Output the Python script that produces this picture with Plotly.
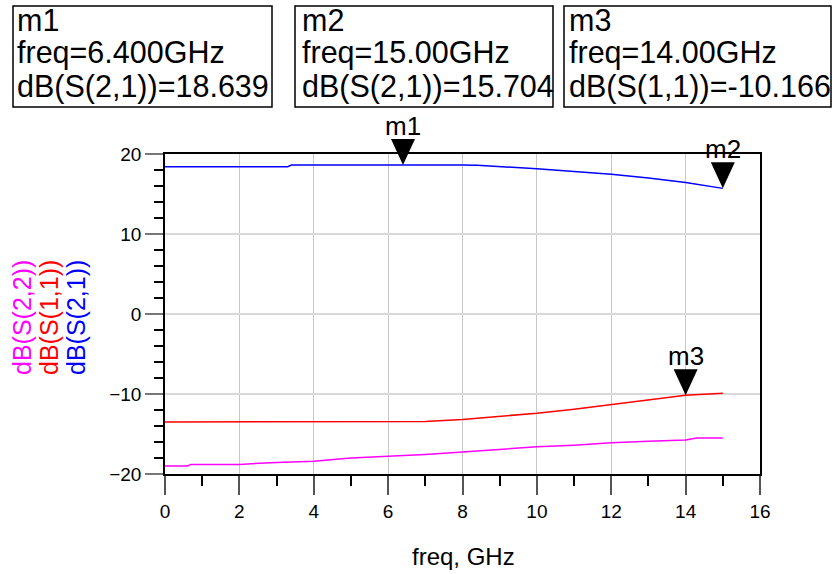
import plotly.graph_objects as go

# ---------------- data ----------------
freq_s21 = [0, 1, 2, 3, 3.3, 3.4, 4, 5, 6, 6.4, 7, 8, 8.4, 9, 10, 11, 12, 13, 14, 15]
s21_db = [18.40, 18.40, 18.40, 18.40, 18.40, 18.62, 18.63, 18.63, 18.64, 18.639, 18.64, 18.63,
          18.60, 18.45, 18.15, 17.82, 17.48, 17.00, 16.45, 15.704]

freq_s11 = [0, 1, 2, 3, 4, 5, 6, 6.7, 7, 8, 9, 10, 11, 12, 13, 14, 15]
s11_db = [-13.5, -13.5, -13.5, -13.5, -13.5, -13.5, -13.5, -13.5, -13.45, -13.18, -12.82,
          -12.40, -11.90, -11.30, -10.70, -10.166, -9.90]

freq_s22 = [0, 0.6, 0.7, 2, 3, 4, 5, 6, 7, 8, 9, 10, 11, 12, 13, 14, 14.3, 15]
s22_db = [-19.0, -19.0, -18.8, -18.8, -18.55, -18.4, -18.0, -17.8, -17.55, -17.25, -16.9,
          -16.6, -16.4, -16.1, -15.9, -15.75, -15.5, -15.5]

marker_names = ["m1", "m2", "m3"]
marker_freq = [6.4, 15.0, 14.0]
marker_value = [18.639, 15.704, -10.166]
marker_trace = ["dB(S(2,1))", "dB(S(2,1))", "dB(S(1,1))"]
marker_freq_text = ["6.400", "15.00", "14.00"]

x_range = [0, 16]
y_range = [-20, 20]
series_names = ["dB(S(2,2))", "dB(S(1,1))", "dB(S(2,1))"]
series_colors = ["#ff00ff", "#ff0000", "#0000ff"]

# ---------------- geometry ----------------
W, H = 838, 574
L, R, T, B = 165, 78, 154, 100
PW, PH = W - L - R, H - T - B

def xp(px):
    return (px - L) / PW

def yp(py):
    return (H - B - py) / PH

def y_to_paper(v):
    return (v - y_range[0]) / (y_range[1] - y_range[0])

FONT = "Liberation Sans, Arial, sans-serif"

fig = go.Figure()
fig.add_trace(go.Scatter(x=freq_s22, y=s22_db, mode="lines", line=dict(color=series_colors[0], width=1.5), name=series_names[0]))
fig.add_trace(go.Scatter(x=freq_s11, y=s11_db, mode="lines", line=dict(color=series_colors[1], width=1.5), name=series_names[1]))
fig.add_trace(go.Scatter(x=freq_s21, y=s21_db, mode="lines", line=dict(color=series_colors[2], width=1.5), name=series_names[2]))

shapes = []
annotations = []

# marker triangles + labels
for name, fx, fy in zip(marker_names, marker_freq, marker_value):
    shapes.append(dict(type="path", xref="x", yref="paper", xsizemode="pixel", ysizemode="pixel",
                       xanchor=fx, yanchor=y_to_paper(fy), path="M -12 26 L 12 26 L 0 0 Z",
                       fillcolor="black", line=dict(width=0), layer="above"))
    annotations.append(dict(x=fx, y=fy, xref="x", yref="y", text=name, showarrow=False,
                            yanchor="middle", xanchor="center", yshift=39,
                            font=dict(family=FONT, size=26, color="black")))

# marker readout boxes
box_left = [13, 295, 564]
box_right = [272, 553, 831]
text_left = [15, 300, 567]
box_top, box_bottom = 6, 107
line_centers = [20, 53, 87]
for i in range(3):
    shapes.append(dict(type="rect", xref="paper", yref="paper",
                       x0=xp(box_left[i]), x1=xp(box_right[i]),
                       y0=yp(box_bottom), y1=yp(box_top),
                       line=dict(color="black", width=1.5), fillcolor="rgba(0,0,0,0)"))
    lines = [marker_names[i],
             "freq=" + marker_freq_text[i] + "GHz",
             marker_trace[i] + "=" + ("%.3f" % marker_value[i])]
    for txt, cy in zip(lines, line_centers):
        annotations.append(dict(x=xp(text_left[i]), y=yp(cy), xref="paper", yref="paper",
                                text=txt, showarrow=False, xanchor="left", yanchor="middle",
                                font=dict(family=FONT, size=30.5, color="black")))

# y-axis titles (three coloured rotated labels)
title_x = [22, 49, 76]
for name, col, tx in zip(series_names, series_colors, title_x):
    annotations.append(dict(x=xp(tx), y=yp(318), xref="paper", yref="paper", text=name,
                            showarrow=False, textangle=-90, xanchor="center", yanchor="middle",
                            font=dict(family=FONT, size=25, color=col)))

# x-axis title
annotations.append(dict(x=xp(463), y=yp(556), xref="paper", yref="paper", text="freq, GHz",
                        showarrow=False, xanchor="center", yanchor="middle",
                        font=dict(family=FONT, size=24, color="black")))

fig.update_layout(
    width=W, height=H, autosize=False,
    margin=dict(l=L, r=R, t=T, b=B, pad=0),
    paper_bgcolor="white", plot_bgcolor="white",
    showlegend=False,
    font=dict(family=FONT, size=19, color="black"),
    shapes=shapes, annotations=annotations,
    xaxis=dict(range=x_range, tick0=0, dtick=2, ticks="outside", ticklen=19, tickwidth=1.5,
               tickcolor="#555555", showgrid=True, gridcolor="#c8c8c8", gridwidth=1,
               showline=True, linecolor="black", linewidth=1.5, mirror=True, zeroline=False,
               tickfont=dict(family=FONT, size=19, color="black"),
               minor=dict(dtick=1, tick0=0, ticks="outside", ticklen=10, tickcolor="black",
                          tickwidth=1.5, showgrid=False)),
    yaxis=dict(range=y_range, tick0=0, dtick=10, ticks="outside", ticklen=18, tickwidth=1.5,
               tickcolor="#777777", showgrid=True, gridcolor="#d9d9d9", gridwidth=1.5,
               showline=True, linecolor="black", linewidth=1.5, mirror=True, zeroline=False,
               tickfont=dict(family=FONT, size=19, color="black"),
               minor=dict(dtick=2, tick0=0, ticks="outside", ticklen=9, tickcolor="black",
                          tickwidth=1.5, showgrid=False)),
)

fig.write_html("out.html")
